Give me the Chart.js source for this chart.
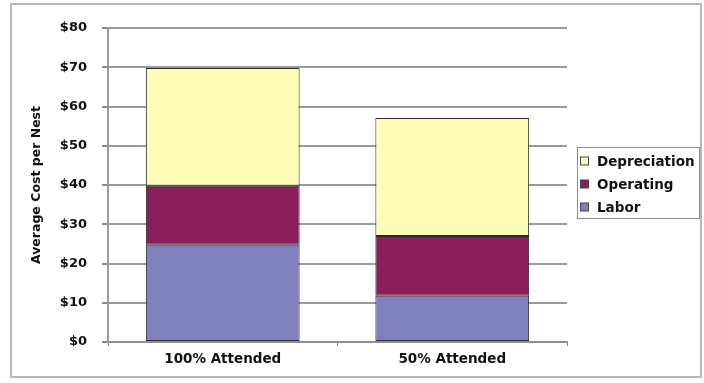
<!DOCTYPE html>
<html><head><meta charset="utf-8">
<script src="https://cdn.jsdelivr.net/npm/chart.js@4/dist/chart.umd.min.js"></script>
<style>html,body{margin:0;padding:0;background:#fff}#wrap{width:704px;height:383px;position:relative}</style>
</head><body><div id="wrap"><canvas id="c" width="704" height="383"></canvas></div>
<script>
const categories = ['100% Attended', '50% Attended'];
const labor = [24.8, 11.8];
const operating = [15.0, 15.2];
const depreciation = [30.0, 30.1];
const yTicks = [0, 10, 20, 30, 40, 50, 60, 70, 80];
const seriesNames = ['Labor', 'Operating', 'Depreciation'];
const seriesColors = ['#8080bd', '#8c1d5b', '#fdfdb8'];

const FONT = 'DejaVu Sans';

const framePlugin = {
  id: 'frame',
  beforeDraw(chart) {
    const ctx = chart.ctx;
    ctx.save();
    ctx.fillStyle = '#fff';
    ctx.fillRect(0, 0, chart.width, chart.height);
    ctx.strokeStyle = '#b8b8b8';
    ctx.lineWidth = 2;
    ctx.strokeRect(11, 4, 690, 373);
    ctx.restore();
  }
};

const legendPlugin = {
  id: 'customLegend',
  afterDraw(chart) {
    const ctx = chart.ctx;
    ctx.save();
    const bx = 577.5, by = 147.5, bw = 122, bh = 71;
    ctx.strokeStyle = '#8a8a8a';
    ctx.lineWidth = 1;
    ctx.strokeRect(bx, by, bw, bh);
    const ds = chart.data.datasets.slice().reverse();
    ctx.font = 'bold 13.5px "' + FONT + '"';
    ctx.textBaseline = 'middle';
    ctx.textAlign = 'left';
    ds.forEach((d, i) => {
      const cy = 161 + i * 23;
      ctx.fillStyle = d.backgroundColor;
      ctx.fillRect(580.5, cy - 4, 8, 8);
      ctx.strokeStyle = '#444';
      ctx.strokeRect(580.5, cy - 4, 8, 8);
      ctx.fillStyle = '#111';
      ctx.fillText(d.label, 597, cy + 1);
    });
    ctx.restore();
  }
};

const values = [labor, operating, depreciation];
new Chart(document.getElementById('c'), {
  type: 'bar',
  data: {
    labels: categories,
    datasets: seriesNames.map((n, i) => ({
      label: n,
      data: values[i],
      backgroundColor: seriesColors[i],
      borderColor: '#2a2a2a',
      borderWidth: 1,
      borderSkipped: false,
      categoryPercentage: 1.0,
      barPercentage: 0.67
    }))
  },
  options: {
    responsive: false,
    animation: false,
    devicePixelRatio: 1,
    layout: { padding: { left: 0, right: 137, top: 28, bottom: 11 } },
    plugins: { legend: { display: false }, tooltip: { enabled: false } },
    scales: {
      x: {
        stacked: true,
        offset: true,
        afterFit(s) { s.height = 30; },
        grid: { display: true, drawOnChartArea: false, offset: true, tickLength: 4, color: '#888', lineWidth: 1 },
        border: { display: true, color: '#8f8f8f', width: 2 },
        ticks: { color: '#111', padding: 5, font: { family: FONT, size: 13.5, weight: 'bold' } }
      },
      y: {
        stacked: true,
        min: 0, max: 80,
        afterFit(s) { s.width = 108; },
        afterBuildTicks(s) { s.ticks = yTicks.map(v => ({ value: v })); },
        grid: { color: '#9a9a9a', lineWidth: 2, tickLength: 6, tickColor: '#8a8a8a' },
        border: { display: true, color: '#9a9a9a', width: 2 },
        ticks: {
          color: '#111', padding: 15,
          font: { family: FONT, size: 13, weight: 'bold' },
          callback: v => '$' + v
        },
        title: {
          display: true, text: 'Average Cost per Nest', color: '#111',
          padding: { top: 29.5, bottom: 0 },
          font: { family: FONT, size: 12.5, weight: 'bold' }
        }
      }
    }
  },
  plugins: [framePlugin, legendPlugin]
});
</script></body></html>
